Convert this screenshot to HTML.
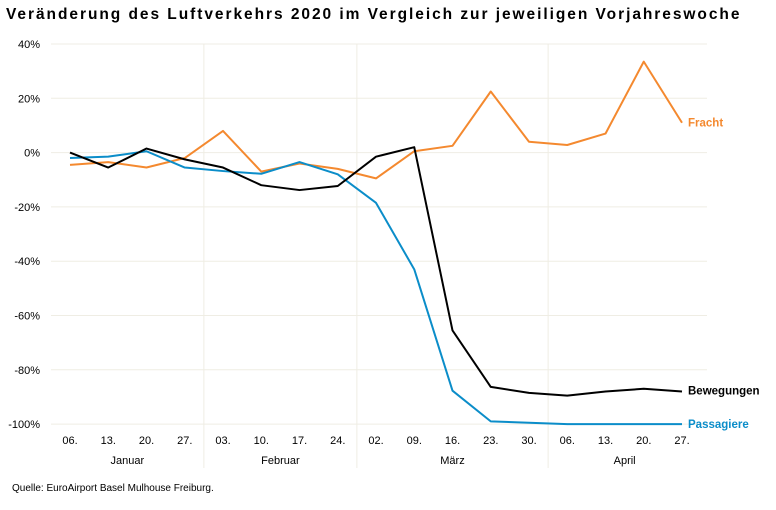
<!DOCTYPE html>
<html><head><meta charset="utf-8"><style>
body{margin:0;background:#fff;font-family:"Liberation Sans",sans-serif}
</style></head><body>
<svg width="776" height="505" xmlns="http://www.w3.org/2000/svg">
<text x="6" y="19" font-size="15.5" font-weight="bold" letter-spacing="1.95" fill="#000">Veränderung des Luftverkehrs 2020 im Vergleich zur jeweiligen Vorjahreswoche</text>
<g id="grid"></g>
<g id="series"></g>
<text x="12" y="491" font-size="10" fill="#000">Quelle: EuroAirport Basel Mulhouse Freiburg.</text>
</svg>
<script>
const weeks=["06.","13.","20.","27.","03.","10.","17.","24.","02.","09.","16.","23.","30.","06.","13.","20.","27."];
const months=["Januar","Februar","März","April"];
const monthStart=[0,4,8,13];
const yTicks=[40,20,0,-20,-40,-60,-80,-100];
const bewegungen=[0,-5.5,1.5,-2.5,-5.5,-12,-13.8,-12.3,-1.5,2,-65.5,-86.3,-88.5,-89.5,-88,-87,-88];
const passagiere=[-2,-1.5,0.5,-5.5,-6.8,-7.8,-3.5,-8,-18.5,-43,-87.7,-99,-99.5,-100,-100,-100,-100];
const fracht=[-4.5,-3.5,-5.5,-2,8,-7,-4,-6,-9.5,0.5,2.5,22.5,4,2.8,7,33.5,11];
const NS="http://www.w3.org/2000/svg";
const x=i=>70+i*38.25;
const y=v=>152.6-v*2.715;
const grid=document.getElementById('grid'),ser=document.getElementById('series');
function mk(tag,attrs,parent,txt){const e=document.createElementNS(NS,tag);for(const k in attrs)e.setAttribute(k,attrs[k]);if(txt!==undefined)e.textContent=txt;parent.appendChild(e);return e;}
yTicks.forEach(t=>{
 const l=mk('line',{x1:51,x2:707,y1:y(t),y2:y(t),stroke:'#efede4','stroke-width':1},grid);
 
 
 const tx=mk('text',{x:40,y:y(t)+4,'font-size':11,'text-anchor':'end',fill:'#000'},grid,t+'%');
 
 
});
monthStart.slice(1).forEach(s=>{
 const l=mk('line',{x1:x(s-0.5),x2:x(s-0.5),y1:44,y2:468,stroke:'#efede4','stroke-width':1},grid);
 
 
});
weeks.forEach((w,i)=>{
 const t=mk('text',{x:x(i),y:444,'font-size':11,'text-anchor':'middle',fill:'#000'},grid,w);
 
 
});
months.forEach((m,k)=>{
 const a=monthStart[k],b=(k<3?monthStart[k+1]:weeks.length)-1;
 const t=mk('text',{x:(x(a)+x(b))/2,y:464,'font-size':11,'text-anchor':'middle',fill:'#000'},grid,m);
 
 
});
function line(data,color,name,label,dy){
 const p=mk('polyline',{points:data.map((v,i)=>x(i)+','+y(v)).join(' '),fill:'none',stroke:color,'stroke-width':2,'stroke-linejoin':'round'},ser);
 
 
 const n=data.length-1;
 const t=mk('text',{x:x(n)+6,y:y(data[n])+4+dy,'font-size':11.5,'font-weight':'bold',fill:color},ser,label);
 
 
}
line(fracht,'#f4892f','fracht','Fracht',0);
line(passagiere,'#0b8dc9','passagiere','Passagiere',0);
line(bewegungen,'#000','bewegungen','Bewegungen',-1);
</script>
</body></html>
